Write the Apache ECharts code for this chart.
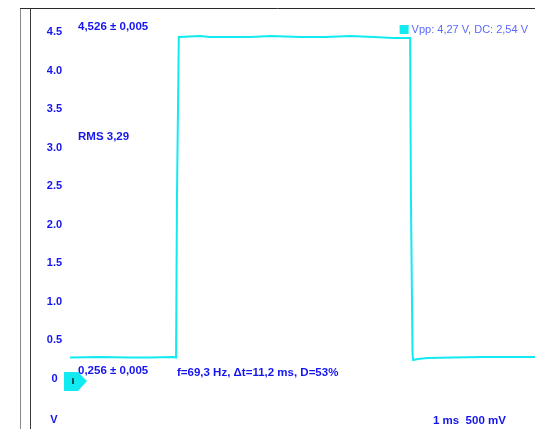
<!DOCTYPE html>
<html>
<head>
<meta charset="utf-8">
<script src="https://cdn.jsdelivr.net/npm/echarts@6/dist/echarts.min.js"></script>
<style>
  html, body { margin: 0; padding: 0; background: #ffffff; }
  #chart { width: 535px; height: 429px; }
</style>
</head>
<body>
<div id="chart"></div>
<script>
// Captured waveform: time in ms, voltage in V
const timeMs = [0, 0.99, 1.97, 2.63, 3.40, 3.49, 3.52, 3.58, 4.28, 4.60, 5.26, 5.92, 6.60, 7.57, 8.40, 9.21, 10.00, 10.63, 11.19, 11.22, 11.27, 11.29, 11.45, 11.75, 12.60, 13.49, 14.40, 15.30];
const voltage = [0.256, 0.262, 0.256, 0.256, 0.262, 0.256, 2.40, 4.526, 4.539, 4.526, 4.526, 4.526, 4.539, 4.526, 4.526, 4.539, 4.526, 4.512, 4.512, 2.30, 0.30, 0.222, 0.236, 0.250, 0.256, 0.262, 0.262, 0.262];

// Vertical scale labels
const yTicks = [0, 0.5, 1.0, 1.5, 2.0, 2.5, 3.0, 3.5, 4.0, 4.5];
const yTickLabels = ['0', '0.5', '1.0', '1.5', '2.0', '2.5', '3.0', '3.5', '4.0', '4.5'];

// Measurement readouts
const channelName = 'Vpp: 4,27 V, DC: 2,54 V';
const highReadout = '4,526 ± 0,005';
const lowReadout = '0,256 ± 0,005';
const rmsReadout = 'RMS 3,29';
const freqReadout = 'f=69,3 Hz, Δt=11,2 ms, D=53%';
const scaleReadout = '1 ms  500 mV';
const unitLabel = 'V';

const traceColor = '#12eaf2';
const textBlue = '#1414ee';
const fontFamily = '"Liberation Sans", Arial, sans-serif';

const points = timeMs.map((t, i) => [t, voltage[i]]);
const chart = echarts.init(document.getElementById('chart'), null, { renderer: 'canvas' });

function readout(text, x, y) {
  return {
    type: 'text', x: x, y: y, z: 20,
    style: { text: text, fill: textBlue, font: 'bold 11.5px ' + fontFamily, verticalAlign: 'middle', align: 'left' }
  };
}

chart.setOption({
  animation: false,
  backgroundColor: '#ffffff',
  grid: { left: 70, right: 0, top: 8, bottom: 9, containLabel: false },
  legend: {
    right: 2, top: 19,
    icon: 'rect', itemWidth: 9, itemHeight: 9, itemGap: 4,
    data: [channelName],
    textStyle: { color: '#5a68ff', fontSize: 11, fontFamily: fontFamily, padding: [0, 0, 0, -2] }
  },
  xAxis: {
    type: 'value', min: 0, max: 15.3, show: false
  },
  yAxis: [
    {
      type: 'value', min: -0.539, max: 4.812,
      axisLine: { show: false }, axisTick: { show: false }, splitLine: { show: false },
      axisLabel: {
        customValues: yTicks,
        margin: 15.5, align: 'center',
        color: textBlue, fontSize: 11, fontWeight: 'bold', fontFamily: fontFamily,
        formatter: v => {
          const i = yTicks.findIndex(t => Math.abs(t - v) < 1e-6);
          return i >= 0 ? yTickLabels[i] : '';
        }
      }
    },
    {
      type: 'value', min: -0.577, max: 4.912, show: false
    }
  ],
  series: [{
    name: channelName,
    type: 'line',
    yAxisIndex: 1,
    data: points,
    showSymbol: false,
    symbol: 'none',
    smooth: false,
    lineStyle: { color: traceColor, width: 2, join: 'miter' },
    itemStyle: { color: traceColor }
  }],
  graphic: [
    { type: 'line', shape: { x1: 20.5, y1: 8, x2: 20.5, y2: 429 }, style: { stroke: '#8a8a8a', lineWidth: 1 } },
    { type: 'line', shape: { x1: 30.5, y1: 8, x2: 30.5, y2: 429 }, style: { stroke: '#3a3a3a', lineWidth: 1 } },
    { type: 'line', shape: { x1: 20, y1: 8.5, x2: 535, y2: 8.5 }, style: { stroke: '#2a2a2a', lineWidth: 1 } },
    {
      type: 'polygon', z: 10,
      shape: { points: [[64, 372], [78, 372], [87, 381], [78, 391], [64, 391]] },
      style: { fill: '#12eaf2' }
    },
    { type: 'text', x: 73, y: 382, z: 11, style: { text: 'I', fill: '#000000', font: 'bold 9px ' + fontFamily, verticalAlign: 'middle', align: 'center' } },
    readout(highReadout, 78, 27),
    readout(rmsReadout, 78, 136.5),
    readout(lowReadout, 78, 371),
    readout(freqReadout, 177, 373),
    readout(scaleReadout, 433, 420.5),
    { type: 'text', x: 54, y: 420, z: 20, style: { text: unitLabel, fill: textBlue, font: 'bold 11px ' + fontFamily, verticalAlign: 'middle', align: 'center' } }
  ]
});
</script>
</body>
</html>
